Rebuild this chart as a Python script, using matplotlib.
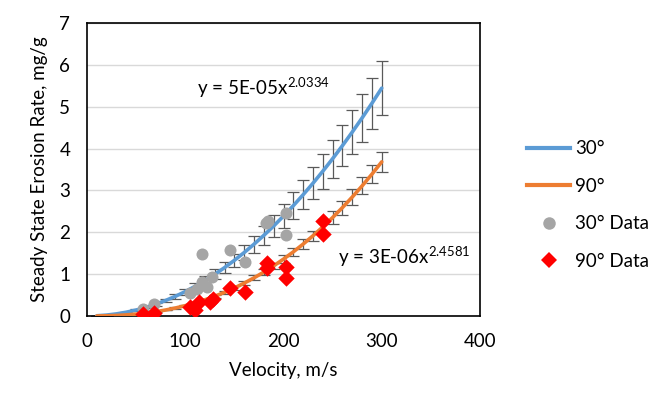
import numpy as np
import matplotlib
matplotlib.use('Agg')
import matplotlib.pyplot as plt
from matplotlib.lines import Line2D

plt.rcParams['font.family'] = ['Lato', 'DejaVu Sans']
plt.rcParams['mathtext.fontset'] = 'custom'
plt.rcParams['mathtext.rm'] = 'Lato'

# measured data points
v30 = [57, 68, 105, 112, 117, 117, 122, 127, 146, 161, 182, 184, 203, 203]
e30 = [0.16, 0.29, 0.54, 0.64, 0.82, 1.49, 0.70, 0.92, 1.58, 1.30, 2.22, 2.28, 2.45, 1.93]

v90 = [57, 68, 105, 110, 114, 125, 128, 146, 161, 183, 183, 203, 203, 240, 240]
e90 = [0.05, 0.07, 0.22, 0.14, 0.34, 0.34, 0.41, 0.67, 0.58, 1.26, 1.14, 1.18, 0.91, 2.26, 1.97]

# power-law fits (Excel trendlines)
a30, b30 = 5e-05, 2.0334
a90, b90 = 3e-06, 2.4581
v_fit = np.arange(10, 301, 10)
err30_frac = 0.12
err90_frac = 0.065

fit30 = a30 * v_fit ** b30
fit90 = a90 * v_fit ** b90

fs = 13.5

fig = plt.figure(figsize=(6.71, 4.13), dpi=100)
ax = fig.add_axes([87 / 671, 1 - 316 / 413, 393 / 671, 293 / 413])

ax.errorbar(v_fit, fit30, yerr=fit30 * err30_frac, fmt='none', ecolor='#595959',
            elinewidth=0.9, capsize=4, capthick=0.9, zorder=2)
ax.errorbar(v_fit, fit90, yerr=fit90 * err90_frac, fmt='none', ecolor='#595959',
            elinewidth=0.9, capsize=4, capthick=0.9, zorder=2)

ax.plot(v_fit, fit30, color='#5B9BD5', lw=2.6, solid_capstyle='round', zorder=3)
ax.plot(v_fit, fit90, color='#ED7D31', lw=2.6, solid_capstyle='round', zorder=3)

ax.scatter(v30, e30, s=75, color='#A5A5A5', marker='o', linewidths=0, zorder=4)
ax.scatter(v90, e90, s=70, color='#FF0000', marker='D', linewidths=0, zorder=5)

ax.text(112, 5.45, r'y = 5E-05x$^{\mathregular{2.0334}}$', fontsize=fs, va='center')
ax.text(255, 1.42, r'y = 3E-06x$^{\mathregular{2.4581}}$', fontsize=fs, va='center')

ax.set_xlim(0, 400)
ax.set_ylim(0, 7)
ax.set_xticks([0, 100, 200, 300, 400])
ax.set_yticks(range(8))
ax.yaxis.grid(True, color='#D9D9D9', lw=1)
ax.set_axisbelow(True)
ax.tick_params(length=0, labelsize=fs, colors='#000000')
ax.tick_params(axis='y', pad=12)
ax.tick_params(axis='x', pad=12)
for s in ax.spines.values():
    s.set_color('black')
    s.set_linewidth(1.2)

ax.set_xlabel('Velocity, m/s', fontsize=fs, labelpad=9)
ax.set_ylabel('Steady State Erosion Rate, mg/g', fontsize=fs, labelpad=8)

handles = [
    Line2D([], [], color='#5B9BD5', lw=3),
    Line2D([], [], color='#ED7D31', lw=3),
    Line2D([], [], color='#A5A5A5', marker='o', ls='none', markersize=9, markeredgewidth=0),
    Line2D([], [], color='#FF0000', marker='D', ls='none', markersize=8, markeredgewidth=0),
]
labels = ['30°', '90°', '30° Data', '90° Data']
fig.legend(handles, labels, loc='center left', bbox_to_anchor=(527 / 671, 1 - 205 / 413),
           frameon=False, fontsize=fs, handlelength=2.3, handletextpad=0.25,
           labelspacing=1.1, borderpad=0, borderaxespad=0)

fig.savefig('out.png', dpi=100)
